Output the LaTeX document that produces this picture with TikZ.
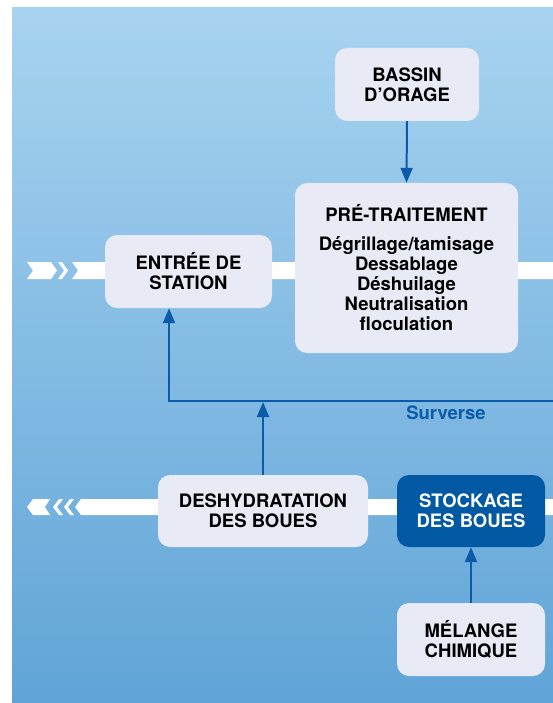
\documentclass[tikz,border=0pt]{standalone}
\usepackage{fontspec}
\setmainfont{TeX Gyre Heros}
\usetikzlibrary{arrows.meta,positioning}
\definecolor{bgtop}{HTML}{A8D3F0}
\definecolor{bgbot}{HTML}{60A4D7}
\definecolor{boxfill}{HTML}{E8EAF5}
\definecolor{darkblue}{HTML}{0059A2}
\definecolor{linkblue}{HTML}{0B5CA8}
\tikzset{
  procbox/.style={fill=boxfill, rounded corners=12pt, inner sep=0pt, align=center,
    font=\fontsize{18.5}{20}\selectfont\bfseries, text=black},
  darkbox/.style={procbox, fill=darkblue, text=white},
  flow/.style={draw=linkblue, line width=2pt, -{Triangle[length=15pt,width=12pt]}},
  band/.style={fill=white, draw=none}
}
\begin{document}
\begin{tikzpicture}[x=1pt,y=-1pt]
\useasboundingbox (0,0) rectangle (553,703);
% background
\shade[top color=bgtop, bottom color=bgbot] (12,8) rectangle (553,703);
% upper band with chevrons (pointing right)
\fill[band] (27,262) -- (51,262) -- (57,270.5) -- (51,279) -- (27,279) -- (33,270.5) -- cycle;
\fill[band] (58,262) -- (62,262) -- (68,270.5) -- (62,279) -- (58,279) -- (64,270.5) -- cycle;
\fill[band] (72,262) -- (553,262) -- (553,279) -- (72,279) -- (78,270.5) -- cycle;
% lower band with chevrons (pointing left)
\fill[band] (27,507) -- (33,499) -- (50,499) -- (45,507) -- (50,515) -- (33,515) -- cycle;
\fill[band] (53,507) -- (59,499) -- (63,499) -- (57,507) -- (63,515) -- (59,515) -- cycle;
\fill[band] (64,507) -- (70,499) -- (74,499) -- (68,507) -- (74,515) -- (70,515) -- cycle;
\fill[band] (75,507) -- (81,499) -- (553,499) -- (553,515) -- (81,515) -- cycle;
% boxes
\node[procbox, minimum width=144pt, minimum height=73pt] (bassin) at (407,84.5) {BASSIN\\D’ORAGE};
\node[procbox, minimum width=223pt, minimum height=170pt] (pretrait) at (406.5,268)
  {PRÉ-TRAITEMENT\\[9pt]Dégrillage/tamisage\\Dessablage\\Déshuilage\\Neutralisation\\floculation};
\node[procbox, minimum width=167pt, minimum height=73pt] (entree) at (188.5,271.5) {ENTRÉE DE\\STATION};
\node[procbox, minimum width=210pt, minimum height=72pt] (deshy) at (263,511) {DESHYDRATATION\\DES BOUES};
\node[darkbox, minimum width=148pt, minimum height=72pt] (stock) at (471,511) {STOCKAGE\\DES BOUES};
\node[procbox, minimum width=148pt, minimum height=73pt] (melange) at (471,639.5) {MÉLANGE\\CHIMIQUE};
% connectors
\draw[flow] (bassin.south) -- (pretrait.north);
\draw[flow] (melange.north) -- (stock.south);
\coordinate (sR) at (553,401);
\coordinate (sL) at (169,401);
\coordinate (sM) at (263,402);
\draw[flow] (sR) -- (sL) -- (sL |- entree.south);
\draw[flow] (deshy.north) -- (sM);
\node[font=\fontsize{18.5}{20}\selectfont\bfseries, text=linkblue, inner sep=0pt] (surverse) at (446,413) {Surverse};
\end{tikzpicture}
\end{document}
